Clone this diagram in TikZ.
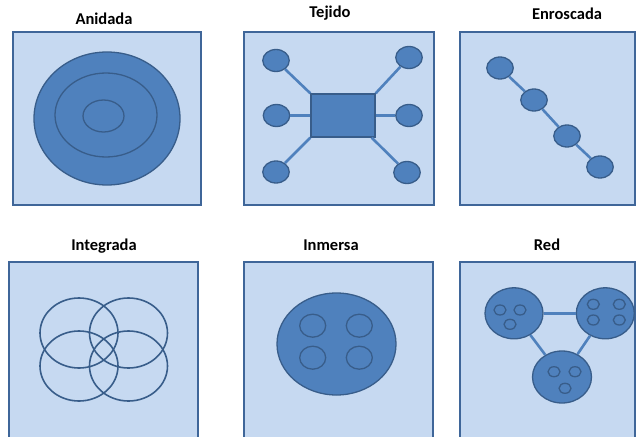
\documentclass[tikz,border=0pt]{standalone}
\usepackage{fontspec}
\setmainfont{Carlito}
\usetikzlibrary{shapes.geometric}
\definecolor{panelfill}{HTML}{C6D9F1}
\definecolor{panelline}{HTML}{3F6699}
\definecolor{dkfill}{HTML}{4F81BD}
\definecolor{dkline}{HTML}{385D8A}
\tikzset{
  panel/.style={fill=panelfill,draw=panelline,line width=1.6pt},
  ttl/.style={font=\fontsize{16.5}{18}\selectfont\bfseries,text=black,inner sep=0pt,anchor=base},
  dkell/.style={ellipse,fill=dkfill,draw=dkline,line width=1.3pt,inner sep=0pt},
  ring/.style={ellipse,draw=dkline,line width=1.3pt,inner sep=0pt},
  openring/.style={ellipse,draw=dkline,line width=1.6pt,inner sep=0pt},
  link/.style={draw=dkfill,line width=2.6pt},
  dkrect/.style={rectangle,fill=dkfill,draw=dkline,line width=1.3pt,inner sep=0pt},
  bead/.style={dkell,minimum width=26.5pt,minimum height=22pt},
  dot/.style={ring,minimum width=12pt,minimum height=10pt},
}
\begin{document}
\begin{tikzpicture}[x=1pt,y=-1pt]
\useasboundingbox (0,0) rectangle (636,436);
\clip (0,0) rectangle (636,436);
% panels
\node[panel,rectangle,minimum width=188pt,minimum height=173pt,inner sep=0pt] (p1) at (107,118.5) {};
\node[panel,rectangle,minimum width=189.5pt,minimum height=173pt,inner sep=0pt] (p2) at (339,118.5) {};
\node[panel,rectangle,minimum width=175pt,minimum height=173pt,inner sep=0pt] (p3) at (547.5,118.5) {};
\node[panel,rectangle,minimum width=189pt,minimum height=180pt,inner sep=0pt] (p4) at (103.5,352) {};
\node[panel,rectangle,minimum width=189pt,minimum height=180pt,inner sep=0pt] (p5) at (338.5,352) {};
\node[panel,rectangle,minimum width=175pt,minimum height=180pt,inner sep=0pt] (p6) at (547.5,352) {};
% titles
\node[ttl] (t1) at (104,25) {Anidada};
\node[ttl] (t2) at (330,18) {Tejido};
\node[ttl] (t3) at (567,20) {Enroscada};
\node[ttl] (t4) at (104,250) {Integrada};
\node[ttl] (t5) at (331,250) {Inmersa};
\node[ttl] (t6) at (547,250) {Red};
% Anidada
\node[dkell,minimum width=146pt,minimum height=133pt] (a1) at (107,118.5) {};
\node[ring,minimum width=102pt,minimum height=84pt] (a2) at (106,115) {};
\node[ring,minimum width=41pt,minimum height=32pt] (a3) at (103.5,116) {};
% Tejido
\node[dkrect,minimum width=64pt,minimum height=43pt] (r) at (343,115.5) {};
\node[bead] (w1) at (276,60.5) {};
\node[bead] (w2) at (276.5,115.5) {};
\node[bead] (w3) at (276,172) {};
\node[bead] (w4) at (409,57.5) {};
\node[bead] (w5) at (409,115.5) {};
\node[bead] (w6) at (407,172.5) {};
\draw[link] (w1) -- (r.north west);
\draw[link] (w2) -- (r.west);
\draw[link] (w3) -- (r.south west);
\draw[link] (w4) -- (r.north east);
\draw[link] (w5) -- (r.east);
\draw[link] ([xshift=-4pt]r.south east) -- (w6);
% Enroscada
\node[bead] (e1) at (500,68) {};
\node[bead] (e2) at (534,100) {};
\node[bead] (e3) at (567,136) {};
\node[bead] (e4) at (600,167) {};
\draw[link] (e1) -- (e2);
\draw[link] (e2) -- (e3);
\draw[link] (e3) -- (e4);
% Integrada
\node[openring,minimum width=78pt,minimum height=70pt] (i1) at (79,333) {};
\node[openring,minimum width=78pt,minimum height=70pt] (i2) at (128.5,333) {};
\node[openring,minimum width=78pt,minimum height=70pt] (i3) at (79,366) {};
\node[openring,minimum width=78pt,minimum height=70pt] (i4) at (128.5,366) {};
% Inmersa
\node[dkell,minimum width=119pt,minimum height=102pt] (m0) at (336.5,344) {};
\node[ring,minimum width=26pt,minimum height=23pt] (m1) at (312.7,325.7) {};
\node[ring,minimum width=26pt,minimum height=23pt] (m2) at (359.3,325.7) {};
\node[ring,minimum width=26pt,minimum height=23pt] (m3) at (312.7,357.7) {};
\node[ring,minimum width=26pt,minimum height=23pt] (m4) at (359.3,357.7) {};
% Red
\node[dkell,minimum width=58pt,minimum height=51pt] (n1) at (514,313.3) {};
\node[dkell,minimum width=58pt,minimum height=51pt] (n2) at (605.3,313.3) {};
\node[dkell,minimum width=59pt,minimum height=52pt] (n3) at (562,377) {};
\draw[link] (n1) -- (n2);
\draw[link] (n1) -- (n3);
\draw[link] (n2) -- (n3);
\node[dot] (d1) at (500,310) {};
\node[dot] (d2) at (520,310) {};
\node[dot] (d3) at (510,324.3) {};
\node[dot] (d4) at (593.3,304.3) {};
\node[dot] (d5) at (619.3,304.3) {};
\node[dot] (d6) at (593.3,320) {};
\node[dot] (d7) at (619.3,320) {};
\node[dot] (d8) at (554,371.7) {};
\node[dot] (d9) at (575,371.7) {};
\node[dot] (d10) at (565,388.3) {};
\end{tikzpicture}
\end{document}
